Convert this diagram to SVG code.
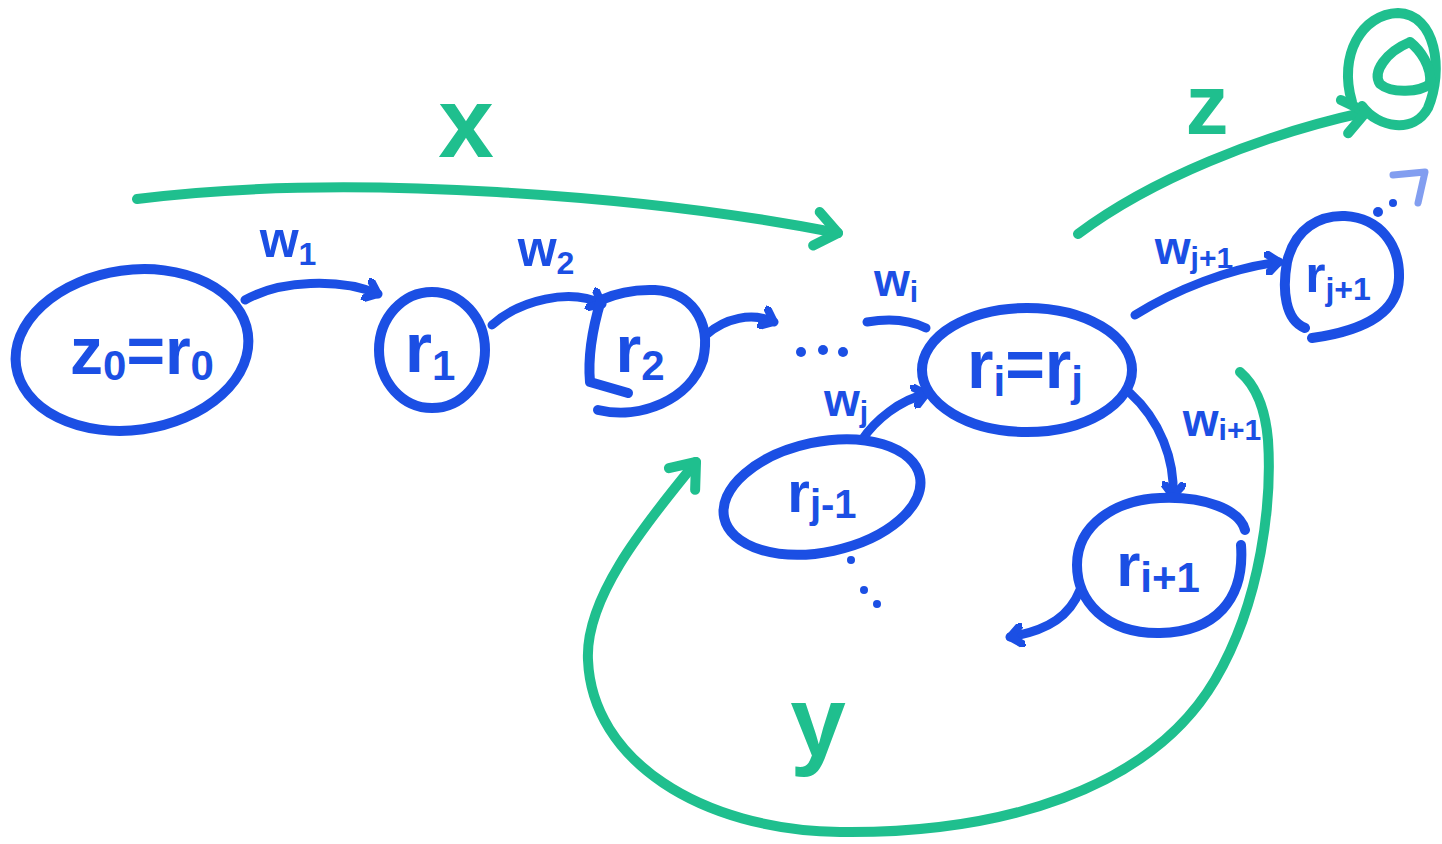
<svg xmlns="http://www.w3.org/2000/svg" width="1442" height="844" viewBox="0 0 1442 844">
  <style>
    .node { fill: none; stroke: #1b4fe4; stroke-width: 10; stroke-linecap: round; stroke-linejoin: round; }
    .edge { fill: none; stroke: #1b4fe4; stroke-width: 9; stroke-linecap: round; stroke-linejoin: round; }
    .flow { fill: none; stroke: #1fbf8e; stroke-width: 10; stroke-linecap: round; stroke-linejoin: round; }
    .lbl  { font-family: "Liberation Sans", "DejaVu Sans", sans-serif; fill: #1b4fe4; font-weight: bold; }
    .glbl { font-family: "Liberation Sans", "DejaVu Sans", sans-serif; fill: #1fbf8e; font-weight: bold; }
    .dot  { fill: #1b4fe4; }
  </style>
  <defs>
    <marker id="ah-blue" viewBox="-14 -12 18 24" markerWidth="18" markerHeight="24" refX="0" refY="0" orient="auto" markerUnits="userSpaceOnUse">
      <path d="M-11,-9 L0,0 L-11,9" fill="none" stroke="#1b4fe4" stroke-width="8" stroke-linecap="round" stroke-linejoin="round"/>
    </marker>
    <marker id="ah-green" viewBox="-30 -24 36 48" markerWidth="36" markerHeight="48" refX="0" refY="0" orient="auto" markerUnits="userSpaceOnUse">
      <path d="M-22,-17 L0,0 L-22,17" fill="none" stroke="#1fbf8e" stroke-width="10" stroke-linecap="round" stroke-linejoin="round"/>
    </marker>
  </defs>

  <rect width="1442" height="844" fill="#ffffff"/>

  <!-- connectors -->
  <g id="connectors">
    <!-- blue transitions -->
    <path class="edge" d="M245,300 C 280,280 340,278 378,294" marker-end="url(#ah-blue)"/>
    <path class="edge" d="M492,325 C 520,300 570,288 602,304" marker-end="url(#ah-blue)"/>
    <path class="edge" d="M706,335 C 725,318 752,312 774,322" marker-end="url(#ah-blue)"/>
    <path class="edge" d="M867,322 C 890,318 910,320 926,328"/>
    <path class="edge" d="M862,440 C 875,420 900,400 926,394" marker-end="url(#ah-blue)"/>
    <path class="edge" d="M1135,315 C 1175,290 1230,268 1279,262" marker-end="url(#ah-blue)"/>
    <path class="edge" d="M1130,393 C 1160,420 1175,460 1173,496" marker-end="url(#ah-blue)"/>
    <path class="edge" d="M1080,590 C 1070,615 1050,630 1010,637" marker-end="url(#ah-blue)"/>

    <!-- green paths -->
    <path class="flow" d="M137,199 C 350,172 650,196 838,233" marker-end="url(#ah-green)"/>
    <path class="flow" d="M1078,234 C 1150,180 1260,135 1366,112" marker-end="url(#ah-green)"/>
    <path class="flow" d="M1240,372 C 1255,385 1265,405 1268,440 C 1272,500 1262,600 1215,680 C 1150,790 1000,834 840,832 C 700,830 592,760 588,660 C 585,600 640,530 696,462" marker-end="url(#ah-green)"/>
    <!-- scribbled target -->
    <path class="flow" d="M1352,102 C 1338,55 1362,14 1398,13 C 1436,14 1444,70 1428,108 C 1414,134 1378,128 1362,106"/>
    <path class="flow" d="M1410,42 C 1386,52 1372,72 1380,84 C 1392,94 1420,92 1430,84 C 1432,66 1420,50 1410,42"/>
  </g>

  <!-- labels -->
  <g id="labels">
    <text class="glbl" x="466" y="157" font-size="100" text-anchor="middle">x</text>
    <text class="glbl" x="1207" y="134" font-size="86" text-anchor="middle">z</text>
    <text class="glbl" x="818" y="756" font-size="100" text-anchor="middle">y</text>

    <text class="lbl" x="288" y="257" font-size="50" text-anchor="middle">w<tspan font-size="32" dy="8">1</tspan></text>
    <text class="lbl" x="546" y="266" font-size="50" text-anchor="middle">w<tspan font-size="32" dy="8">2</tspan></text>
    <text class="lbl" x="896" y="296" font-size="46" text-anchor="middle">w<tspan font-size="30" dy="6">i</tspan></text>
    <text class="lbl" x="846" y="416" font-size="46" text-anchor="middle">w<tspan font-size="30" dy="6">j</tspan></text>
    <text class="lbl" x="1194" y="264" font-size="46" text-anchor="middle">w<tspan font-size="30" dy="4">j+1</tspan></text>
    <text class="lbl" x="1222" y="436" font-size="46" text-anchor="middle">w<tspan font-size="30" dy="4">i+1</tspan></text>

    <!-- ellipsis marks -->
    <circle class="dot" cx="801" cy="352" r="5"/>
    <circle class="dot" cx="823" cy="350" r="5"/>
    <circle class="dot" cx="843" cy="352" r="5"/>
    <circle class="dot" cx="851" cy="560" r="4"/>
    <circle class="dot" cx="864" cy="590" r="4"/>
    <circle class="dot" cx="877" cy="604" r="4"/>
    <circle class="dot" cx="1378" cy="212" r="5"/>
    <circle class="dot" cx="1393" cy="203" r="4"/>
    <path d="M1393,175 L1425,172 L1418,203" fill="none" stroke="#1b4fe4" stroke-width="7" stroke-linecap="round" stroke-linejoin="round" opacity="0.55"/>
  </g>

  <!-- states -->
  <g id="node-r0">
    <ellipse class="node" cx="132" cy="350" rx="117" ry="80" transform="rotate(-8 132 350)"/>
    <text class="lbl" x="142" y="374" font-size="66" text-anchor="middle">z<tspan font-size="42" dy="6">0</tspan><tspan dy="-6">=r</tspan><tspan font-size="42" dy="6">0</tspan></text>
  </g>

  <g id="node-r1">
    <ellipse class="node" cx="432" cy="350" rx="53" ry="58"/>
    <text class="lbl" x="430" y="372" font-size="70" text-anchor="middle">r<tspan font-size="42" dy="8">1</tspan></text>
  </g>

  <g id="node-r2">
    <path class="node" d="M601,300 C 592,330 588,360 590,382 L 628,393 M 598,410 C 640,420 690,400 703,360 C 712,320 690,292 655,290 C 630,289 612,295 601,300"/>
    <text class="lbl" x="640" y="372" font-size="66" text-anchor="middle">r<tspan font-size="42" dy="8">2</tspan></text>
  </g>

  <g id="node-ri">
    <ellipse class="node" cx="1027" cy="370" rx="105" ry="62"/>
    <text class="lbl" x="1025" y="388" font-size="68" text-anchor="middle">r<tspan font-size="42" dy="8">i</tspan><tspan dy="-8">=r</tspan><tspan font-size="42" dy="8">j</tspan></text>
  </g>

  <g id="node-rj-1">
    <ellipse class="node" cx="822" cy="497" rx="100" ry="55" transform="rotate(-12 822 497)"/>
    <text class="lbl" x="822" y="512" font-size="58" text-anchor="middle">r<tspan font-size="40" dy="6">j-1</tspan></text>
  </g>

  <g id="node-ri1">
    <path class="node" d="M1241,545 C 1245,600 1215,632 1160,633 C 1105,634 1077,600 1077,565 C 1077,525 1115,500 1160,498 C 1205,496 1240,510 1245,530"/>
    <text class="lbl" x="1158" y="586" font-size="62" text-anchor="middle">r<tspan font-size="42" dy="6">i+1</tspan></text>
  </g>

  <g id="node-rj1">
    <path class="node" d="M1305,328 C 1285,320 1282,290 1287,262 C 1295,228 1320,215 1345,216 C 1380,218 1400,245 1399,278 C 1398,310 1370,330 1312,338"/>
    <text class="lbl" x="1338" y="292" font-size="52" text-anchor="middle">r<tspan font-size="32" dy="8">j+1</tspan></text>
  </g>
</svg>
